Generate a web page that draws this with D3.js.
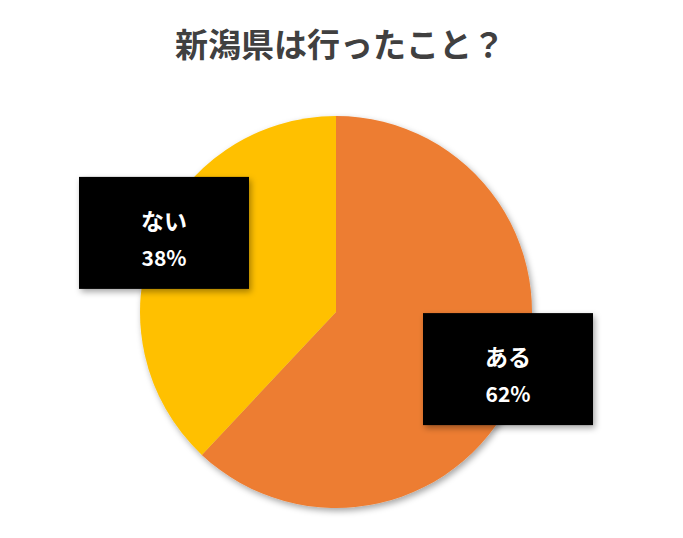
<!DOCTYPE html>
<html>
<head>
<meta charset="utf-8">
<style>
  body { margin: 0; background: #fff; font-family: 'Noto Sans CJK JP', 'Noto Sans', sans-serif; }
  svg { display: block; }
</style>
</head>
<body>
<svg width="683" height="538"></svg>
<script src="https://d3js.org/d3.v7.min.js"></script>
<script>
  // chart values
  let categories = ["ある", "ない"]
  let percents = [62, 38]
  let colors = ["#ED7D31", "#FFC000"]
  let title = "新潟県は行ったこと？"

  let svg = d3.select("svg")
  let cx = 336, cy = 312, radius = 196

  let defs = svg.append("defs")
  let shadow = defs.append("filter").attr("id", "shadow")
    .attr("x", "-20%").attr("y", "-20%").attr("width", "140%").attr("height", "140%")
  shadow.append("feDropShadow").attr("dx", 2).attr("dy", 3)
    .attr("stdDeviation", 3).attr("flood-color", "#000").attr("flood-opacity", 0.35)

  svg.append("text")
    .attr("x", 340).attr("y", 57)
    .attr("text-anchor", "middle")
    .style("font-size", "33px").style("font-weight", "bold")
    .style("fill", "#404040")
    .text(title)

  let data = categories.map((c, i) => ({ name: c, value: percents[i], color: colors[i] }))

  let pie = d3.pie().sort(null).value(d => d.value)
  let arc = d3.arc().innerRadius(0).outerRadius(radius)
  let labelArc = d3.arc().innerRadius(185).outerRadius(185)

  let g = svg.append("g").attr("transform", "translate(" + cx + "," + cy + ")")

  g.append("g").attr("filter", "url(#shadow)")
    .selectAll("path")
    .data(pie(data))
    .join("path")
    .attr("d", arc)
    .style("fill", d => d.data.color)

  let labels = g.selectAll(".lbl")
    .data(pie(data))
    .join("g")
    .attr("class", "lbl")
    .attr("transform", d => {
      let c = labelArc.centroid(d)
      return "translate(" + c[0] + "," + (c[1] - 11) + ")"
    })

  labels.append("rect")
    .attr("x", -85).attr("y", -56).attr("width", 170).attr("height", 112)
    .style("fill", "#000")
    .attr("filter", "url(#shadow)")

  labels.append("text")
    .attr("y", -3).attr("text-anchor", "middle")
    .style("fill", "#fff").style("font-size", "23px").style("font-weight", "bold")
    .text(d => d.data.name)

  labels.append("text")
    .attr("y", 33).attr("text-anchor", "middle")
    .style("fill", "#fff").style("font-size", "21px").style("font-weight", "bold")
    .text(d => d.data.value + "%")
</script>
</body>
</html>
